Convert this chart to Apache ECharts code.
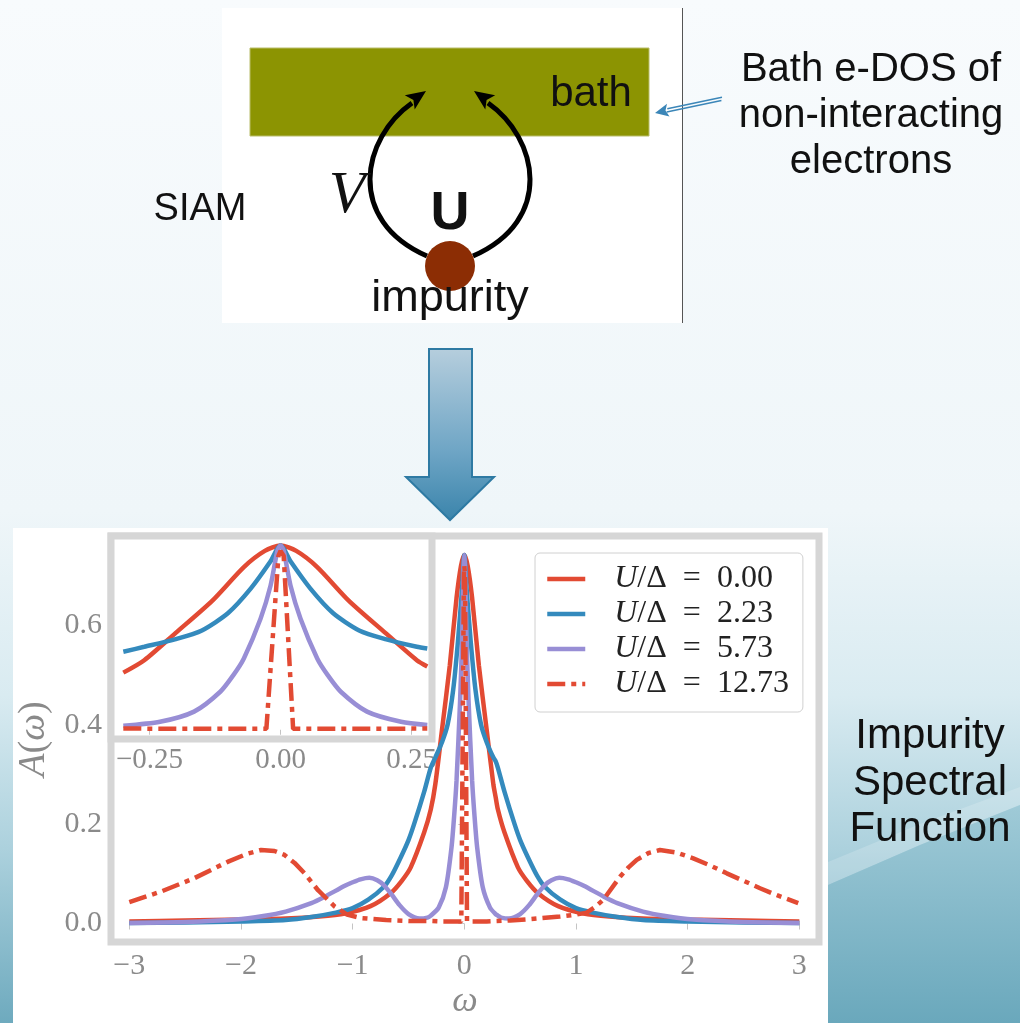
<!DOCTYPE html>
<html><head><meta charset="utf-8">
<script src="https://cdn.jsdelivr.net/npm/echarts@6/dist/echarts.min.js"></script>
<style>html,body{margin:0;padding:0;background:#f7fbfd}#c{width:1020px;height:1023px}</style>
</head><body><div id="c"></div>
<script>
// ---- data ----
const seriesNames = ['U/Δ = 0.00', 'U/Δ = 2.23', 'U/Δ = 5.73', 'U/Δ = 12.73'];
const seriesColors = ['#E24A33', '#348ABD', '#988ED5', '#E24A33'];

const omegaU0 = [-3.0,-2.5,-2.0,-1.6,-1.3,-1.07,-0.84,-0.66,-0.56,-0.48,-0.36,-0.30,-0.26,-0.20,-0.13,-0.07,-0.03,0,0.03,0.07,0.13,0.20,0.26,0.28,0.30,0.36,0.48,0.56,0.66,0.84,1.07,1.3,1.6,2.0,2.5,3.0];
const aU0 = [0.004,0.006,0.008,0.010,0.014,0.020,0.035,0.061,0.086,0.113,0.183,0.230,0.280,0.390,0.520,0.655,0.720,0.742,0.720,0.655,0.520,0.390,0.280,0.255,0.230,0.183,0.113,0.086,0.061,0.035,0.020,0.014,0.010,0.008,0.006,0.004];

const omegaU2 = [-3.0,-2.5,-2.0,-1.6,-1.37,-1.15,-1.0,-0.86,-0.72,-0.65,-0.57,-0.50,-0.45,-0.36,-0.30,-0.26,-0.20,-0.15,-0.10,-0.057,-0.02,0,0.02,0.057,0.10,0.15,0.20,0.26,0.28,0.30,0.36,0.45,0.50,0.57,0.65,0.72,0.86,1.0,1.15,1.37,1.6,2.0,2.5,3.0];
const aU2 = [0.001,0.002,0.004,0.007,0.013,0.022,0.031,0.048,0.074,0.097,0.133,0.168,0.200,0.265,0.314,0.334,0.365,0.400,0.470,0.568,0.675,0.742,0.675,0.568,0.470,0.400,0.365,0.334,0.327,0.314,0.265,0.200,0.168,0.133,0.097,0.074,0.048,0.031,0.022,0.013,0.007,0.004,0.002,0.001];

const omegaU5 = [-3.0,-2.5,-2.05,-1.8,-1.6,-1.37,-1.25,-1.07,-1.0,-0.93,-0.85,-0.78,-0.72,-0.65,-0.58,-0.50,-0.40,-0.33,-0.30,-0.23,-0.165,-0.115,-0.09,-0.07,-0.038,-0.019,-0.006,0,0.006,0.019,0.038,0.07,0.09,0.115,0.165,0.23,0.28,0.30,0.33,0.40,0.50,0.58,0.65,0.72,0.78,0.85,0.93,1.0,1.07,1.25,1.37,1.6,1.8,2.05,2.5,3.0];
const aU5 = [0.001,0.003,0.008,0.015,0.024,0.041,0.054,0.076,0.083,0.089,0.092,0.087,0.077,0.058,0.037,0.019,0.010,0.012,0.016,0.032,0.073,0.153,0.220,0.287,0.448,0.581,0.720,0.742,0.720,0.581,0.448,0.287,0.220,0.153,0.073,0.032,0.019,0.016,0.012,0.010,0.019,0.037,0.058,0.077,0.087,0.092,0.089,0.083,0.076,0.054,0.041,0.024,0.015,0.008,0.003,0.001];

const omegaU12 = [-3.0,-2.72,-2.42,-2.12,-1.95,-1.82,-1.7,-1.61,-1.52,-1.43,-1.31,-1.16,-1.05,-0.925,-0.7,-0.48,-0.30,-0.2,-0.027,-0.004,0,0.006,0.024,0.2,0.28,0.41,0.6,0.857,1.0,1.096,1.17,1.245,1.394,1.47,1.544,1.65,1.752,1.9,2.05,2.2,2.35,2.5,2.648,2.8,2.99];
const aU12 = [0.043,0.064,0.091,0.124,0.140,0.148,0.146,0.138,0.122,0.101,0.067,0.034,0.018,0.011,0.007,0.005,0.005,0.004,0.004,0.700,0.720,0.700,0.004,0.004,0.005,0.006,0.009,0.014,0.018,0.022,0.033,0.048,0.094,0.113,0.128,0.142,0.148,0.143,0.131,0.117,0.101,0.086,0.071,0.057,0.041];

const xTicks = [-3, -2, -1, 0, 1, 2, 3];
const yTicks = [0, 0.2, 0.4, 0.6];
const insetTicks = [-0.25, 0, 0.25];

// ---- build ----
const omegas = [omegaU0, omegaU2, omegaU5, omegaU12];
const amps = [aU0, aU2, aU5, aU12];
const pts = omegas.map((w, k) => w.map((x, i) => [x, amps[k][i]]));
const insetPts = pts.map(p => p.filter(q => q[0] >= -0.30 && q[0] <= 0.28));
const dashDot = [18, 6, 5, 6];
const minus = v => (v < 0 ? '\u2212' + Math.abs(v) : String(v));
const tickGray = '#8a8a8a';
const serif = '"Liberation Serif", "DejaVu Serif", serif';
const sans = '"Liberation Sans", Arial, sans-serif';

function lineSeries(k, xi, data, name) {
  return {
    type: 'line', name: name, xAxisIndex: xi, yAxisIndex: xi, data: data,
    symbol: 'none', showSymbol: false, smooth: k === 3 ? false : 0.25, silent: true,
    lineStyle: { color: seriesColors[k], width: 4.5, type: k === 3 ? dashDot : 'solid' },
    itemStyle: { color: seriesColors[k] }, z: 2 + k
  };
}

const series = [];
for (let k = 0; k < 4; k++) series.push(lineSeries(k, 0, pts[k], seriesNames[k]));
for (let k = 0; k < 4; k++) series.push(lineSeries(k, 1, insetPts[k], 'inset ' + seriesNames[k]));

const frameColor = '#d6d6d6';
const tx = (text, x, y, font, extra) => Object.assign({
  type: 'text', z: 20,
  style: Object.assign({ text: text, x: x, y: y, font: font, fill: '#111', align: 'center', verticalAlign: 'middle', textAlign: 'center', textVerticalAlign: 'middle' }, extra || {})
});

const graphicEls = [
  // slide background
  { type: 'rect', z: -20, shape: { x: 0, y: 0, width: 1020, height: 1023 },
    style: { fill: new echarts.graphic.LinearGradient(0, 0, 0, 1, [
      { offset: 0, color: '#f8fbfd' }, { offset: 0.5, color: '#eff6f9' },
      { offset: 0.68, color: '#d9ebf1' }, { offset: 0.83, color: '#acd1dd' }, { offset: 1, color: '#6eaabe' }]) } },
  { type: 'polygon', z: -19, shape: { points: [[828, 862], [920, 824], [1020, 787], [1020, 805], [920, 845], [828, 885]] },
    style: { fill: 'rgba(255,255,255,0.18)' } },
  { type: 'polygon', z: -19, shape: { points: [[828, 885], [920, 845], [1020, 805], [1020, 1023], [828, 1023]] },
    style: { fill: new echarts.graphic.LinearGradient(0, 0, 0, 1, [{ offset: 0, color: '#9fcad7' }, { offset: 1, color: '#6aa8bc' }]) } },
  // white panels
  { type: 'rect', z: -15, shape: { x: 13, y: 528, width: 815, height: 495 }, style: { fill: '#ffffff' } },
  { type: 'rect', z: -15, shape: { x: 222, y: 8, width: 460, height: 315 }, style: { fill: '#ffffff' } },
  { type: 'line', z: 10, shape: { x1: 682.5, y1: 8, x2: 682.5, y2: 323 }, style: { stroke: '#555', lineWidth: 1 } },
  // bath
  { type: 'rect', z: 10, shape: { x: 250, y: 48, width: 399, height: 88 }, style: { fill: '#8c9402', stroke: '#b9bd6a', lineWidth: 1 } },
  tx('bath', 591, 94, '42px ' + sans),
  // arcs
  { type: 'bezierCurve', z: 11, shape: { x1: 427, y1: 256, cpx1: 345, cpy1: 220, cpx2: 362, cpy2: 138, x2: 412, y2: 103 },
    style: { stroke: '#000', lineWidth: 5, fill: null } },
  { type: 'bezierCurve', z: 11, shape: { x1: 473, y1: 256, cpx1: 555, cpy1: 220, cpx2: 538, cpy2: 138, x2: 488, y2: 103 },
    style: { stroke: '#000', lineWidth: 5, fill: null } },
  { type: 'polygon', z: 12, shape: { points: [[426, 91], [414.7, 109.6], [413.4, 100], [404.8, 95.2]] }, style: { fill: '#000' } },
  { type: 'polygon', z: 12, shape: { points: [[474, 91], [485.3, 109.6], [486.6, 100], [495.2, 95.2]] }, style: { fill: '#000' } },
  { type: 'circle', z: 13, shape: { cx: 450, cy: 266, r: 25 }, style: { fill: '#8c2d04' } },
  tx('U', 450, 214, 'bold 54px ' + sans),
  tx('V', 347, 196, 'italic 60px ' + serif),
  tx('impurity', 450, 299, '45px ' + sans),
  tx('SIAM', 200, 210, '38px ' + sans),
  // bath description
  tx('Bath e-DOS of\nnon-interacting\nelectrons', 871, 116, '40px ' + sans, { lineHeight: 46 }),
  { type: 'line', z: 10, shape: { x1: 722, y1: 97.2, x2: 667.3, y2: 108.8 }, style: { stroke: '#3b86b8', lineWidth: 1.5 } },
  { type: 'line', z: 10, shape: { x1: 721.4, y1: 100.4, x2: 666.7, y2: 112 }, style: { stroke: '#3b86b8', lineWidth: 1.5 } },
  { type: 'polygon', z: 10, shape: { points: [[655, 113], [669.5, 116.6], [665.5, 110.4], [667, 103.8]] }, style: { fill: '#3b86b8' } },
  // big arrow
  { type: 'polygon', z: 10, shape: { points: [[429, 349], [472, 349], [472, 477], [494, 477], [450, 520], [406, 477], [429, 477]] },
    style: { fill: new echarts.graphic.LinearGradient(0, 0, 0, 1, [{ offset: 0, color: '#b6cedd' }, { offset: 0.6, color: '#6ea5c5' }, { offset: 1, color: '#3a84ab' }]),
      stroke: '#2e7aa3', lineWidth: 2 } },
  // right caption
  tx('Impurity\nSpectral\nFunction', 930, 783, '42px ' + sans, { lineHeight: 46.5 })
];

const option = {
  animation: false,
  graphic: { elements: graphicEls },
  grid: [
    { left: 111, top: 536, width: 708, height: 406, show: true, backgroundColor: '#fff', borderColor: frameColor, borderWidth: 7 },
    { left: 111, top: 536, width: 321, height: 203, show: true, backgroundColor: '#fff', borderColor: frameColor, borderWidth: 7 }
  ],
  xAxis: [
    { type: 'value', gridIndex: 0, min: -3.164, max: 3.176,
      name: 'ω', nameLocation: 'middle', nameGap: 42,
      nameTextStyle: { fontFamily: serif, fontStyle: 'italic', fontSize: 36, color: tickGray },
      axisLine: { show: false }, splitLine: { show: false },
      axisTick: { show: true, customValues: xTicks, length: 6, inside: false, lineStyle: { color: '#c4c4c4' } },
      axisLabel: { customValues: xTicks, formatter: minus, fontFamily: serif, fontSize: 30, color: tickGray, margin: 9 } },
    { type: 'value', gridIndex: 1, min: -0.3235, max: 0.289,
      axisLine: { show: false }, splitLine: { show: false },
      axisTick: { show: true, customValues: insetTicks, length: 5, lineStyle: { color: '#c4c4c4' } },
      axisLabel: { customValues: insetTicks, formatter: v => (v < 0 ? '\u2212' + Math.abs(v).toFixed(2) : v.toFixed(2)),
        fontFamily: serif, fontSize: 29, color: tickGray, margin: 7 } }
  ],
  yAxis: [
    { type: 'value', gridIndex: 0, min: -0.0372, max: 0.780,
      name: '{i|A}({i|ω})', nameLocation: 'middle', nameGap: 58,
      nameTextStyle: { fontFamily: serif, fontSize: 38, color: tickGray,
        rich: { i: { fontFamily: serif, fontStyle: 'italic', fontSize: 38, color: tickGray } } },
      axisLine: { show: false }, splitLine: { show: false },
      axisTick: { show: true, customValues: yTicks, length: 6, lineStyle: { color: '#c4c4c4' } },
      axisLabel: { customValues: yTicks, formatter: v => v.toFixed(1), fontFamily: serif, fontSize: 30, color: tickGray, margin: 9 } },
    { type: 'value', gridIndex: 1, min: -0.0372, max: 0.780, show: false, splitLine: { show: false } }
  ],
  legend: {
    data: seriesNames, left: 535, top: 553, orient: 'vertical',
    itemWidth: 38, itemHeight: 30, itemGap: 3,
    padding: [10, 14, 12, 10],
    backgroundColor: '#ffffff', borderColor: '#d0d0d0', borderWidth: 1, borderRadius: 5,
    selectedMode: false,
    itemStyle: { color: 'rgba(0,0,0,0)', borderWidth: 0, opacity: 0 },
    lineStyle: { width: 4.5 },
    formatter: name => '{i|U}/Δ  =  ' + name.split('= ')[1],
    textStyle: { fontFamily: serif, fontSize: 32, lineHeight: 30, color: '#222', padding: [0, 0, 0, 24],
      rich: { i: { fontFamily: serif, fontStyle: 'italic', fontSize: 32, lineHeight: 30, color: '#222' } } }
  },
  series: series
};

const chart = echarts.init(document.getElementById('c'), null, { renderer: 'canvas' });
chart.setOption(option);
</script>
</body></html>
